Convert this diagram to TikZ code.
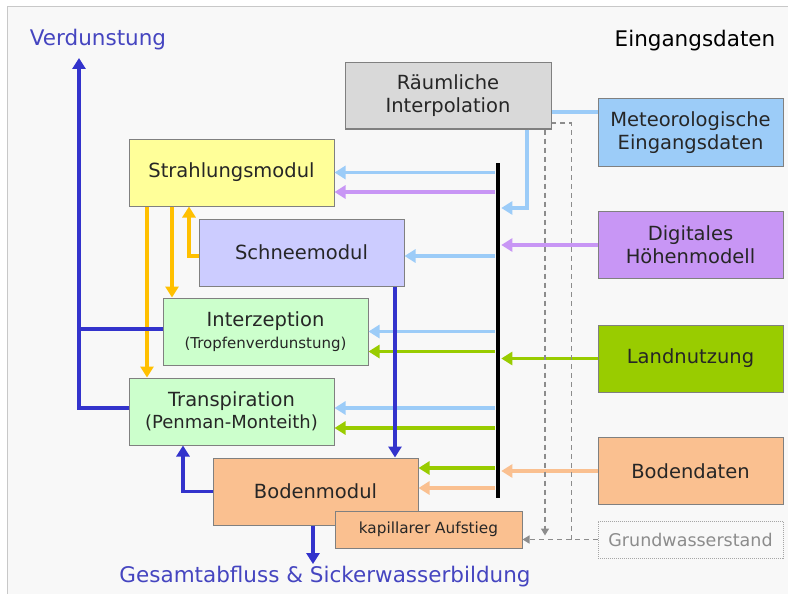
\documentclass[tikz,border=0pt]{standalone}
\usepackage{fontspec}
\setmainfont{DejaVu Sans}
\usetikzlibrary{arrows.meta}

\definecolor{hintergrund}{HTML}{F8F8F8}
\definecolor{rahmen}{HTML}{C8C8C8}
\definecolor{grau}{HTML}{D9D9D9}
\definecolor{hellblau}{HTML}{9CCCF8}
\definecolor{lila}{HTML}{C896F5}
\definecolor{gruen}{HTML}{99CC00}
\definecolor{pfirsich}{HTML}{FAC090}
\definecolor{gelb}{HTML}{FFFF99}
\definecolor{orange}{HTML}{FFC000}
\definecolor{schnee}{HTML}{CCCCFF}
\definecolor{hellgruen}{HTML}{CCFFCC}
\definecolor{blau}{HTML}{3333CC}
\definecolor{textblau}{HTML}{4545C0}

\begin{document}
\begin{tikzpicture}[x=1pt,y=-1pt,>={Triangle[length=11pt,width=13pt]},
                    line width=3.1pt]
  \tikzstyle{box}=[draw=black!50,line width=1pt,minimum width=205pt,
                   minimum height=67pt,inner sep=0pt,align=center,
                   text=black!85,font=\fontsize{19.5}{23}\selectfont]
  \tikzstyle{eingabe}=[box,minimum width=185pt]
  \tikzstyle{titel}=[inner sep=1pt,font=\fontsize{21.5}{26}\selectfont]
  \tikzstyle{bus}=[fill=black,minimum width=3.5pt,minimum height=335pt,
                   inner sep=0pt]
  \tikzstyle{hb}=[->,draw=hellblau]
  \tikzstyle{li}=[->,draw=lila]
  \tikzstyle{gr}=[->,draw=gruen]
  \tikzstyle{pf}=[->,draw=pfirsich]
  \tikzstyle{ge}=[->,draw=orange]
  \tikzstyle{bl}=[->,draw=blau]
  \tikzstyle{gd}=[draw=black!45,line width=1.5pt,dash pattern=on 5pt off 4pt,
                  >={Triangle[length=7pt,width=8pt]}]

  % Hintergrund
  \useasboundingbox (0,0) rectangle (788,594);
  \fill[hintergrund] (7,7) rectangle (788,594);
  \draw[rahmen,line width=1pt] (7,594) -- (7,7) -- (788,7);

  % Beschriftungen
  \node[titel,text=textblau] (verd)   at (98,40)  {Verdunstung};
  \node[titel,text=black]    (eing)   at (695,41) {Eingangsdaten};
  \node[titel,text=textblau] (gesamt) at (325,577)
       {Gesamtabfluss \& Sickerwasserbildung};

  % Eingangsdaten
  \node[box,fill=grau,minimum width=206pt,minimum height=66pt] (interp) at (448,96)
       {Räumliche\\Interpolation};
  \node[eingabe,fill=hellblau] (met)    at (690.5,132.5) {Meteorologische\\Eingangsdaten};
  \node[eingabe,fill=lila]     (dhm)    at (690.5,245)   {Digitales\\Höhenmodell};
  \node[eingabe,fill=gruen]    (land)   at (690.5,358.5) {Landnutzung};
  \node[eingabe,fill=pfirsich] (bodend) at (690.5,471)   {Bodendaten};
  \node[eingabe,draw=black!35,densely dotted,minimum height=37pt,text=black!45,
        font=\fontsize{17.5}{21}\selectfont] (gw) at (690.5,539.5) {Grundwasserstand};

  % Module
  \node[box,fill=gelb]      (strahl)   at (231.5,172.5) {Strahlungsmodul};
  \node[box,fill=schnee]    (schnee)   at (301.5,252.5) {Schneemodul};
  \node[box,fill=hellgruen] (interz)   at (265.5,331.5)
       {Interzeption\\[-1pt]{\fontsize{15}{18}\selectfont(Tropfenverdunstung)}};
  \node[box,fill=hellgruen] (transp)   at (231.5,411.5)
       {Transpiration\\[-1pt]{\fontsize{18}{21}\selectfont(Penman-Monteith)}};
  \node[box,fill=pfirsich]  (bodenmod) at (315.5,491.5) {Bodenmodul};
  \node[box,fill=pfirsich,minimum width=187pt,minimum height=37pt,
        font=\fontsize{15.3}{18}\selectfont] (kap) at (428.5,529.5) {kapillarer Aufstieg};

  \node[bus] (bus) at (498,330.5) {};

  % Hilfspunkte
  \coordinate (m1) at ([yshift=20.5pt]met.west);
  \coordinate (i1) at ([xshift=79pt]interp.south);
  \coordinate (i2) at ([yshift=37pt]dhm.west);
  \coordinate (s2) at ([yshift=-19.5pt]strahl.east);
  \coordinate (sn) at ([yshift=-3.5pt]schnee.east);
  \coordinate (z2) at ([yshift=-20pt]interz.east);
  \coordinate (t1) at ([yshift=3.5pt]transp.east);
  \coordinate (t2) at ([yshift=-16.5pt]transp.east);
  \coordinate (b1) at ([yshift=23.5pt]bodenmod.east);
  \coordinate (b2) at ([yshift=3.5pt]bodenmod.east);
  \coordinate (vp) at (79,58);

  % Eingaenge zum Bus
  \draw[hellblau] (m1) -- (m1 -| interp.east);
  \draw[hb] (i1) |- (i2 -| bus.east);
  \path (dhm.west)    edge[li] (bus.east |- dhm.west)
        (land.west)   edge[gr] (bus.east |- land.west)
        (bodend.west) edge[pf] (bus.east |- bodend.west);

  % Bus zu den Modulen
  \path (bus.west |- strahl.east) edge[hb] (strahl.east)
        (bus.west |- s2)          edge[li] (s2)
        (bus.west |- sn)          edge[hb] (sn)
        (bus.west |- interz.east) edge[hb] (interz.east)
        (bus.west |- z2)          edge[gr] (z2)
        (bus.west |- t1)          edge[hb] (t1)
        (bus.west |- t2)          edge[gr] (t2)
        (bus.west |- b1)          edge[gr] (b1)
        (bus.west |- b2)          edge[pf] (b2);

  % Strahlung
  \draw[ge] ([xshift=-84.5pt]strahl.south) -- ([xshift=-84.5pt]transp.north);
  \draw[ge] ([xshift=-59.5pt]strahl.south) -- ([xshift=-59.5pt]strahl.south |- interz.north);
  \draw[ge] ([yshift=-3.5pt]schnee.west) -| ([xshift=-42.5pt]strahl.south);

  % Wasserfluesse
  \draw[bl] ([yshift=3.5pt]transp.west) -| (vp);
  \draw[blau] ([yshift=2.5pt]interz.west) -- ([yshift=2.5pt]interz.west -| vp);
  \draw[bl] ([xshift=93.5pt]schnee.south) -- ([xshift=93.5pt]schnee.south |- bodenmod.north);
  \draw[bl] (bodenmod.west) -| ([xshift=-48.5pt]transp.south);
  \draw[bl] ([xshift=-2.5pt]bodenmod.south) -- ([xshift=-2.5pt]bodenmod.south |- gesamt.north);

  % Grundwasser
  \draw[gd,->] (gw.west) -- (gw.west -| kap.east);
  \draw[gd] ([xshift=-26pt]gw.west) |- ([yshift=-27pt]interp.east);
  \draw[gd,->] ([xshift=97pt]interp.south) -- ([xshift=97pt,yshift=4pt]interp.south |- gw.west);
\end{tikzpicture}
\end{document}
